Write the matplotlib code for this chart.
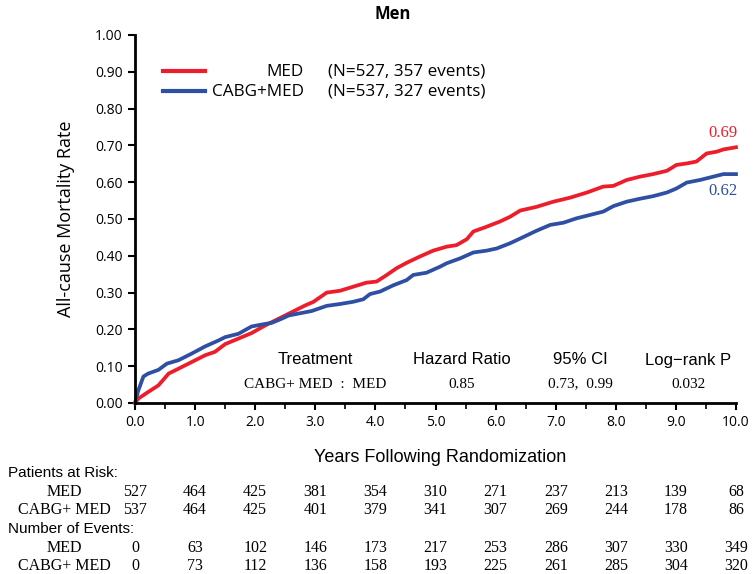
import numpy as np
import matplotlib
matplotlib.use("Agg")
import matplotlib.pyplot as plt

# Curvas de mortalidad acumulada
t_med = [0, 0.055, 0.22, 0.39, 0.56, 0.72, 0.94, 1.17, 1.33, 1.5, 1.72, 1.94, 2.17, 2.39,
         2.61, 2.83, 2.97, 3.19, 3.41, 3.63, 3.85, 4.02, 4.19, 4.35, 4.52, 4.74, 4.96,
         5.19, 5.35, 5.52, 5.63, 5.85, 6.07, 6.24, 6.41, 6.68, 6.96, 7.24, 7.52, 7.79,
         7.96, 8.18, 8.4, 8.62, 8.85, 9.01, 9.18, 9.34, 9.51, 9.68, 9.79, 10.0]
v_med = [0, 0.012, 0.03, 0.048, 0.08, 0.093, 0.111, 0.13, 0.139, 0.16, 0.175, 0.19, 0.211,
         0.229, 0.247, 0.265, 0.275, 0.3, 0.305, 0.316, 0.327, 0.33, 0.348, 0.366, 0.381,
         0.398, 0.414, 0.425, 0.429, 0.445, 0.466, 0.479, 0.493, 0.506, 0.523, 0.533,
         0.547, 0.558, 0.572, 0.588, 0.59, 0.606, 0.615, 0.622, 0.631, 0.647, 0.651,
         0.656, 0.678, 0.683, 0.689, 0.695]

t_cabg = [0, 0.055, 0.14, 0.22, 0.39, 0.53, 0.72, 0.94, 1.17, 1.39, 1.5, 1.72, 1.94, 2.17,
          2.28, 2.44, 2.56, 2.72, 2.94, 3.19, 3.41, 3.63, 3.80, 3.91, 4.08, 4.3, 4.52,
          4.63, 4.85, 5.07, 5.19, 5.41, 5.63, 5.85, 6.02, 6.24, 6.41, 6.68, 6.91, 7.13,
          7.35, 7.57, 7.79, 7.96, 8.18, 8.4, 8.62, 8.85, 9.01, 9.18, 9.4, 9.62, 9.79, 10.0]
v_cabg = [0, 0.034, 0.072, 0.08, 0.09, 0.107, 0.116, 0.134, 0.154, 0.17, 0.179, 0.188,
          0.208, 0.215, 0.218, 0.229, 0.238, 0.243, 0.25, 0.264, 0.269, 0.275, 0.282,
          0.296, 0.303, 0.32, 0.334, 0.348, 0.354, 0.37, 0.38, 0.393, 0.409, 0.414, 0.42,
          0.434, 0.447, 0.468, 0.484, 0.49, 0.502, 0.511, 0.52, 0.535, 0.547, 0.555,
          0.562, 0.572, 0.583, 0.599, 0.606, 0.615, 0.622, 0.622]

final_med = "0.69"
final_cabg = "0.62"

# Tabla de riesgo
years = [0, 1, 2, 3, 4, 5, 6, 7, 8, 9, 10]
risk_med = [527, 464, 425, 381, 354, 310, 271, 237, 213, 139, 68]
risk_cabg = [537, 464, 425, 401, 379, 341, 307, 269, 244, 178, 86]
events_med = [0, 63, 102, 146, 173, 217, 253, 286, 307, 330, 349]
events_cabg = [0, 73, 112, 136, 158, 193, 225, 261, 285, 304, 320]

stats_header = ["Treatment", "Hazard Ratio", "95% CI", "Log\u2212rank P"]
stats_row = ["CABG+ MED  :  MED", "0.85", "0.73,  0.99", "0.032"]

ROJO = "#ee1d2b"
AZUL = "#2f4fa3"
W, H = 754, 574
SANS = ["Open Sans", "DejaVu Sans"]
NARROW = ["Liberation Sans Narrow", "Liberation Sans", "DejaVu Sans"]
SERIF = ["Liberation Serif", "DejaVu Serif"]


def fx(x):
    return x / W


def fy(y):
    return 1 - y / H


fig = plt.figure(figsize=(W / 100, H / 100), dpi=100)
ax = fig.add_axes([fx(135), fy(403), (736 - 135) / W, (403 - 35) / H])

ax.plot(t_med, v_med, color=ROJO, lw=2.7, solid_joinstyle="round", clip_on=False)
ax.plot(t_cabg, v_cabg, color=AZUL, lw=2.7, solid_joinstyle="round", clip_on=False)

ax.set_xlim(0, 10)
ax.set_ylim(0, 1)
ax.set_xticks(np.arange(0, 10.01, 1))
ax.set_xticks(np.arange(0.5, 10, 1), minor=True)
ax.set_xticklabels([f"{v:.1f}" for v in np.arange(0, 10.01, 1)])
ax.set_yticks(np.arange(0, 1.001, 0.1))
ax.set_yticklabels([f"{v:.2f}" for v in np.arange(0, 1.001, 0.1)])
for lab in ax.get_xticklabels() + ax.get_yticklabels():
    lab.set_family(SANS)
    lab.set_fontsize(10)
ax.tick_params(axis="both", which="major", direction="out", length=5, width=1.5, pad=4)
ax.tick_params(axis="x", which="minor", direction="out", length=4, width=1.2)
for s in ["top", "right"]:
    ax.spines[s].set_visible(False)
for s in ["left", "bottom"]:
    ax.spines[s].set_linewidth(2)

ax.set_ylabel("All-cause Mortality Rate", fontsize=13, family=SANS, labelpad=14)

# Valores finales
ax.text(9.78, 0.735, final_med, color=ROJO, fontsize=12, family=SERIF, ha="center", va="center")
ax.text(9.78, 0.577, final_cabg, color=AZUL, fontsize=12, family=SERIF, ha="center", va="center")

# Leyenda manual
fig.add_artist(plt.Line2D([fx(163), fx(205)], [fy(71), fy(71)], color=ROJO, lw=3))
fig.add_artist(plt.Line2D([fx(163), fx(205)], [fy(91), fy(91)], color=AZUL, lw=3))
fig.text(fx(304), fy(72), "MED", ha="right", va="center", fontsize=12.3, family=SANS)
fig.text(fx(304), fy(92), "CABG+MED", ha="right", va="center", fontsize=12.3, family=SANS)
fig.text(fx(328), fy(72), "(N=527, 357 events)", ha="left", va="center", fontsize=12.3, family=SANS)
fig.text(fx(328), fy(92), "(N=537, 327 events)", ha="left", va="center", fontsize=12.3, family=SANS)

# Tabla de hazard ratio
col_x = [315, 462, 580, 688]
for cx, h, r in zip(col_x, stats_header, stats_row):
    fig.text(fx(cx), fy(360), h, ha="center", va="center", fontsize=12, family=NARROW)
    fig.text(fx(cx), fy(384), r, ha="center", va="center", fontsize=11, family=SERIF)

fig.text(fx(393), fy(14), "Men", ha="center", va="center", fontsize=12, fontweight="bold", family=SANS)
fig.text(fx(440), fy(458), "Years Following Randomization", ha="center", va="center",
         fontsize=13, family=NARROW)

# Tabla de pacientes en riesgo y eventos
fig.text(fx(8), fy(473), "Patients at Risk:", ha="left", va="center", fontsize=11, family=NARROW)
fig.text(fx(8), fy(529), "Number of Events:", ha="left", va="center", fontsize=11, family=NARROW)
filas = [(492, "MED", risk_med), (510, "CABG+ MED", risk_cabg),
         (548, "MED", events_med), (566, "CABG+ MED", events_cabg)]
for y, nombre, valores in filas:
    fig.text(fx(64), fy(y), nombre, ha="center", va="center", fontsize=11.5, family=SERIF)
    for yr, v in zip(years, valores):
        xpix = 135 + yr * 60.1
        fig.text(fx(xpix), fy(y), str(v), ha="center", va="center", fontsize=11.5, family=SERIF)

fig.savefig("out.png", dpi=100)
